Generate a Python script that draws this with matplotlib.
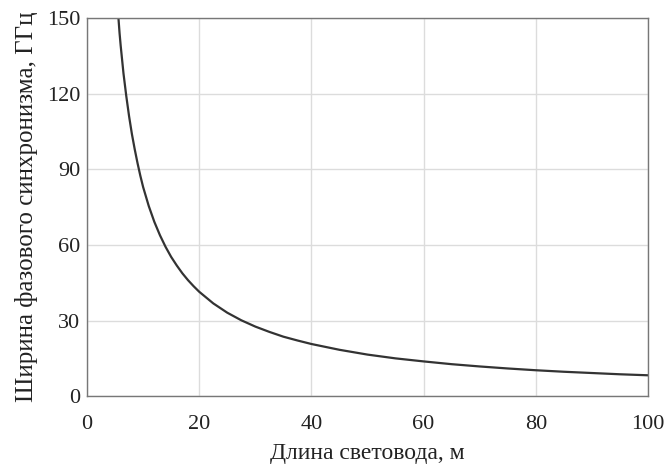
import matplotlib
matplotlib.use('Agg')
import matplotlib.pyplot as plt

# Phase-matching bandwidth vs fibre length
length_m = [5.6, 5.8, 6.0, 6.5, 7.0, 7.5, 8.0, 8.5, 9.0, 9.5, 10.0, 11.0, 12.0, 13.0,
            14.0, 15.0, 16.0, 17.0, 18.0, 19.0, 20.0, 22.5, 25.0, 27.5, 30.0, 32.5,
            35.0, 37.5, 40.0, 45.0, 50.0, 55.0, 60.0, 65.0, 70.0, 75.0, 80.0, 85.0,
            90.0, 95.0, 100.0]
bandwidth_ghz = [150, 144, 139, 128, 119, 111, 104, 98, 92.5, 87.5, 83, 75.5, 69.2, 63.9,
                 59.3, 55.3, 51.9, 48.8, 46.1, 43.7, 41.5, 36.9, 33.2, 30.2, 27.7, 25.6,
                 23.7, 22.2, 20.8, 18.5, 16.6, 15.1, 13.9, 12.8, 11.9, 11.1, 10.4, 9.8,
                 9.3, 8.8, 8.4]

x_ticks = [0, 20, 40, 60, 80, 100]
y_ticks = [0, 30, 60, 90, 120, 150]

plt.rcParams['font.family'] = ['Liberation Serif', 'DejaVu Serif']

fig = plt.figure(figsize=(6.71, 4.67), dpi=100)
ax = fig.add_axes([0.1297, 0.151, 0.836, 0.8105])

ax.plot(length_m, bandwidth_ghz, color='#333333', linewidth=1.6,
        solid_joinstyle='round')

ax.set_xlim(0, 100)
ax.set_ylim(0, 150)
ax.set_xticks(x_ticks)
ax.set_yticks(y_ticks)
ax.grid(True, color='#dcdcdc', linewidth=1)
ax.set_axisbelow(True)
ax.tick_params(axis='both', length=0, labelsize=16, colors='#222222')
ax.tick_params(axis='x', pad=13)
ax.tick_params(axis='y', pad=5)
for s in ax.spines.values():
    s.set_color('#777777')
    s.set_linewidth(1)

ax.set_xlabel('Длина световода, м', fontsize=17, color='#222222', labelpad=7)
ax.set_ylabel('Ширина фазового синхронизма, ГГц', fontsize=18, color='#222222',
              labelpad=6)

fig.savefig('out.png', dpi=100)
